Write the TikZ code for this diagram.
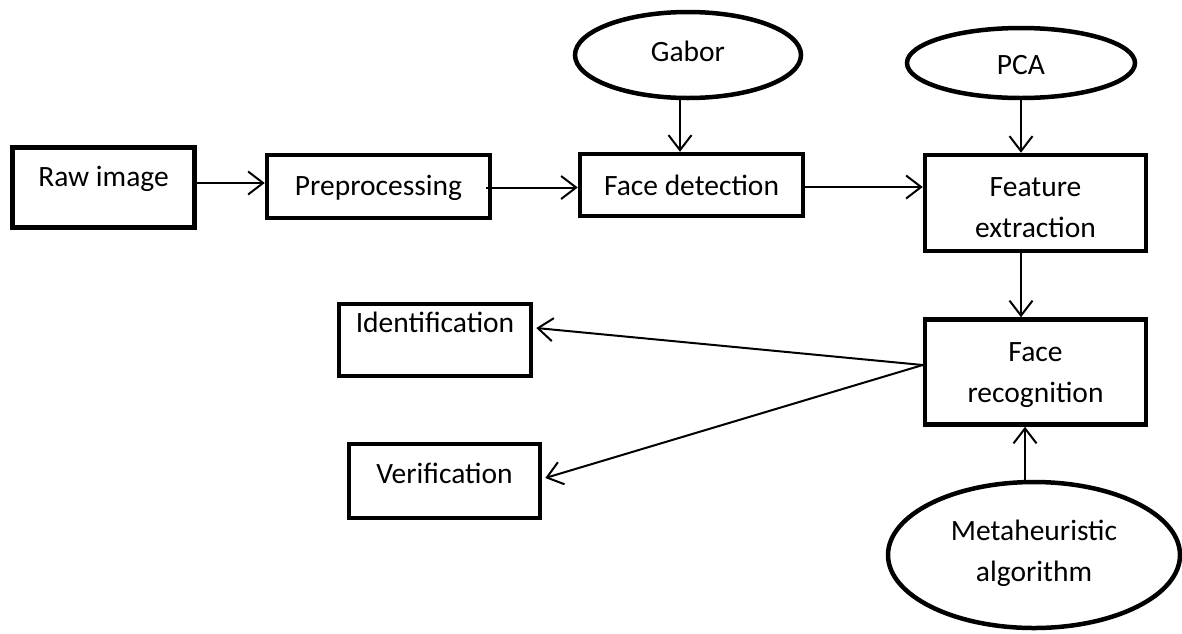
\documentclass[tikz,border=0pt]{standalone}
\usepackage{fontspec}
\setmainfont{Carlito}
\usetikzlibrary{shapes.geometric,arrows.meta}
\newcommand{\tbx}[3]{\raisebox{0pt}[#1pt][#2pt]{#3}}
\newcommand{\twol}[2]{\begin{tabular}[t]{@{}c@{}}#1\\#2\end{tabular}}
\tikzset{
  boxnode/.style={draw, line width=4.5pt, rectangle, inner sep=0pt, align=center,
    font=\fontsize{29.5}{41}\selectfont},
  ellnode/.style={draw, line width=4.5pt, ellipse, inner sep=0pt, align=center,
    font=\fontsize{29.5}{41}\selectfont},
  conn/.style={line width=2pt, -{Straight Barb[length=15pt,width=23pt,line width=2pt]}}
}
\begin{document}
\begin{tikzpicture}[x=1pt,y=-1pt]
\useasboundingbox[fill=white] (0,0) rectangle (1182,633);
\node[boxnode, minimum width=182pt, minimum height=80pt] (raw) at (103.5,187.5) {\tbx{10}{13}{Raw image}};
\node[boxnode, minimum width=223pt, minimum height=63pt] (pre) at (378.5,186.5) {\tbx{27}{10}{Preprocessing}};
\node[boxnode, minimum width=223pt, minimum height=62pt] (fd) at (691.5,185) {\tbx{30}{10}{Face detection}};
\node[boxnode, minimum width=221pt, minimum height=96pt] (fe) at (1035.5,203) {\tbx{10}{24}{\twol{Feature}{extraction}}};
\node[boxnode, minimum width=221pt, minimum height=105pt] (fr) at (1035.5,372) {\tbx{10}{32}{\twol{Face}{recognition}}};
\node[boxnode, minimum width=192pt, minimum height=72pt] (id) at (435,340) {\tbx{10}{26}{Identification}};
\node[boxnode, minimum width=191pt, minimum height=74pt] (ver) at (444.5,481) {\tbx{14}{10}{Verification}};
\node[ellnode, minimum width=226pt, minimum height=86pt] (gab) at (688,55) {\tbx{22}{10}{Gabor}};
\node[ellnode, minimum width=228pt, minimum height=70pt] (pca) at (1021,63) {\tbx{32}{10}{PCA}};
\node[ellnode, minimum width=292pt, minimum height=146pt] (meta) at (1034,555) {\tbx{10}{40}{\twol{Metaheuristic}{algorithm}}};

\draw[conn] ([yshift=4.5pt]raw.east) -- ([yshift=4.5pt]raw.east -| pre.west);
\draw[conn] ([xshift=-6pt,yshift=-1pt]pre.east) -- ([yshift=-1pt]pre.east -| fd.west);
\draw[conn] ([yshift=-2pt]fd.east) -- ([yshift=-2pt]fd.east -| fe.west);
\draw[conn] ([xshift=-8pt]gab.south) -- ([xshift=-8pt]gab.south |- fd.north);
\draw[conn] (pca.south) -- (pca.south |- fe.north);
\draw[conn] (pca.south |- fe.south) -- (pca.south |- fr.north);
\draw[conn] ([xshift=-9pt]meta.north) -- ([xshift=-9pt]meta.north |- fr.south);
\draw[conn] ([yshift=7pt]fr.west) -- ([xshift=3pt,yshift=12pt]id.east);
\draw[conn] ([yshift=7pt]fr.west) -- ([xshift=3pt,yshift=3pt]ver.east);
\end{tikzpicture}
\end{document}
